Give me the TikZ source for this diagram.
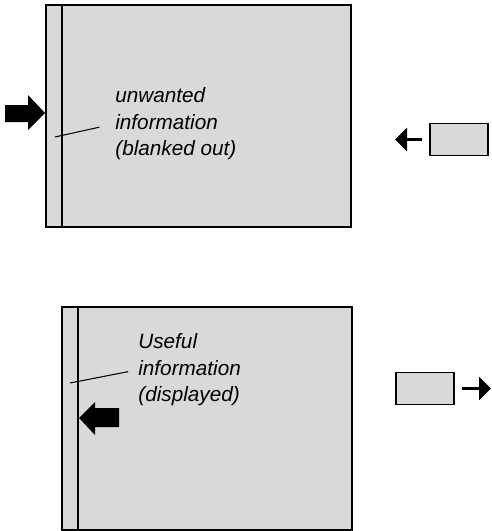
\documentclass[tikz,border=0pt]{standalone}
\usepackage{fontspec}
\setmainfont{Liberation Sans}
\usepackage{tikz}
\usetikzlibrary{arrows.meta}
\tikzstyle{scr}=[draw,fill=black!15,line width=1.1pt]
\tikzstyle{buf}=[draw,fill=black!15,line width=1.1pt,minimum width=1.16cm,minimum height=0.64cm,inner sep=0pt]
\tikzstyle{lbl}=[inner sep=0pt,align=left,font=\fontsize{11.8}{15.2}\selectfont\itshape]
\tikzstyle{lead}=[draw,line width=0.6pt]
\tikzstyle{arr}=[-{Triangle[length=0.24cm,width=0.46cm]},draw,line width=1.8pt,shorten <=0.14cm]

\begin{document}
\begin{tikzpicture}[x=0.02cm,y=-0.02cm]
    \useasboundingbox (0,0) rectangle (492,531);
    \begin{scope}
      % screen with the strip blanked out
      \draw[scr] (46,5) rectangle (351,227);
      \draw[line width=1.1pt] (62,5) -- (62,227);
      \fill (5,105) -- (28,105) -- (28,95) -- (45,113) -- (28,130) -- (28,122) -- (5,122) -- cycle;
      \node[lbl,anchor=north west] (U) at (115,87) {unwanted\\information\\(blanked out)};
      \coordinate (P1) at (55,137);
      \draw[lead,shorten >=0.32cm] (P1) -- (U.west);
      \node[buf] (S1) at (459,139.5) {};
      \coordinate (T1) at (395,139.5);
      \draw[arr] (S1.west) -- (T1);
    \end{scope}
    \begin{scope}
      % screen with the strip displayed
      \draw[scr] (62,307) rectangle (352,530);
      \draw[line width=1.1pt] (78,307) -- (78,530);
      \fill (119,408) -- (95,408) -- (95,402) -- (79,418) -- (95,435) -- (95,427) -- (119,427) -- cycle;
      \node[lbl,anchor=north west] (D) at (138,333) {Useful\\information\\(displayed)};
      \coordinate (P2) at (70,383);
      \draw[lead,shorten >=0.2cm] (P2) -- (D.west);
      \node[buf] (S2) at (425,388.5) {};
      \coordinate (T2) at (491,388.5);
      \draw[arr] (S2.east) -- (T2);
    \end{scope}
\end{tikzpicture}
\end{document}
